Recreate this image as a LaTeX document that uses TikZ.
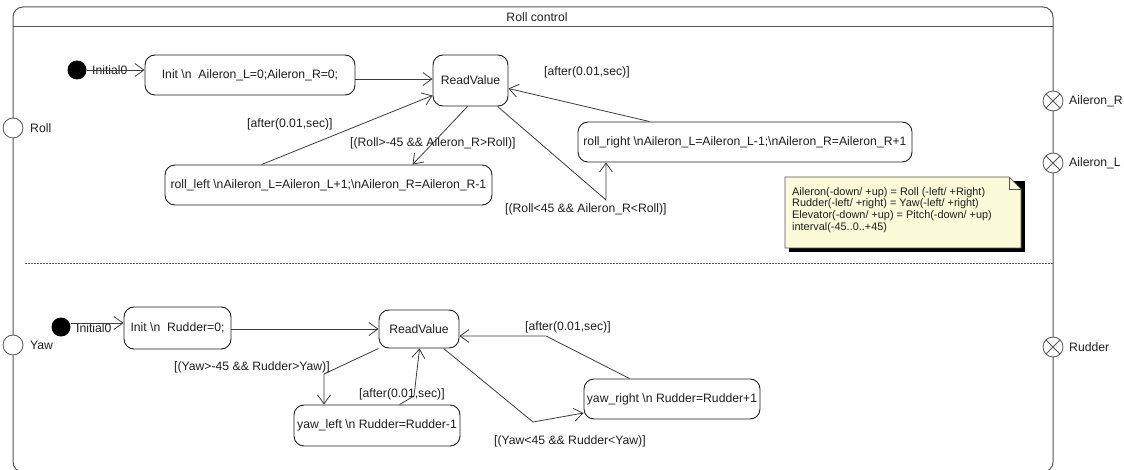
\documentclass[tikz,border=0pt]{standalone}
\usepackage{fontspec}
\setmainfont{Liberation Sans}
\usetikzlibrary{arrows.meta,calc}
\definecolor{ink}{HTML}{1E1E1E}
\definecolor{edgegray}{HTML}{3C3C3C}
\definecolor{framegray}{HTML}{555555}
\definecolor{notefill}{HTML}{FBFBDA}
\begin{document}
\begin{tikzpicture}[x=1pt,y=-1pt,
  font=\fontsize{12.2}{14}\selectfont,
  state/.style={draw=ink, rounded corners=10pt, line width=0.9pt, inner sep=0pt,
    text=ink, fill=white},
  tr/.style={draw=edgegray, line width=0.8pt, -{Straight Barb[length=9pt,width=13pt]}},
  guard/.style={text=ink, inner sep=0pt, anchor=west},
  inport/.style={circle, draw=framegray, fill=white, minimum size=20pt, inner sep=0pt, line width=0.8pt},
  outport/.style={inport},
  startdot/.style={circle, fill=black, minimum size=19pt, inner sep=0pt}]
\useasboundingbox (0,0) rectangle (1124,470);

% enclosing state with its title bar
\draw[framegray, line width=1pt, rounded corners=10pt] (13,7) rectangle (1053,472);
\draw[framegray, line width=1pt] (13,27) -- (1053,27);
\node[text=ink, inner sep=0pt] (title) at (537,17) {Roll control};
% region separator
\draw[framegray, line width=0.8pt, dash pattern=on 2pt off 1pt] (25,263) -- (1053,263);

% ports on the border
\node[inport] (roll) at (13,128) {};
\node[guard] (rolllbl) at (30,128) {Roll};
\node[inport] (yaw) at (13,345) {};
\node[guard] (yawlbl) at (30,345) {Yaw};
\foreach \p/\yy/\t in {ailr/101/Aileron\_R, aill/163/Aileron\_L, rud/347/Rudder}{
  \node[outport] (\p) at (1053,\yy) {};
  \draw[framegray, line width=0.8pt] (\p.45) -- (\p.225) (\p.135) -- (\p.-45);
  \node[guard] (\p lbl) at (1069,\yy) {\t};
}

% upper region: roll
\node[startdot] (ini1) at (77,70) {};
\node[state, minimum width=210pt, minimum height=40pt] (init1) at (250,75)
  {Init \textbackslash n\ \ Aileron\_L=0;Aileron\_R=0;};
\node[state, minimum width=75pt, minimum height=51pt] (rv1) at (470.5,80.5) {ReadValue};
\node[state, minimum width=327pt, minimum height=40pt] (rleft) at (328.5,185)
  {roll\_left \textbackslash nAileron\_L=Aileron\_L+1;\textbackslash nAileron\_R=Aileron\_R-1};
\node[state, minimum width=334pt, minimum height=40pt] (rright) at (745,142)
  {roll\_right \textbackslash nAileron\_L=Aileron\_L-1;\textbackslash nAileron\_R=Aileron\_R+1};

\node[guard] (ini1lbl) at (92,70) {Initial0};
\draw[tr] (ini1.east) -- (ini1.east -| init1.west);
\draw[tr] ([yshift=-4pt]init1.east) -- ([yshift=-4pt]init1.east -| rv1.west);

\draw[tr] ([xshift=35pt]rv1.south west) -- ([xshift=248pt]rleft.north west);
\node[guard] (g1) at (350,143) {[(Roll>-45 \&\& Aileron\_R>Roll)]};

\draw[tr] ([xshift=97pt]rleft.north west) -- ([yshift=11pt]rv1.south west);
\node[guard] (g2) at (247,124) {[after(0.01,sec)]};

\coordinate (k1) at (606,200);
\draw[tr] ([xshift=65pt]rv1.south west) -- (k1) -- (k1 |- rright.south);
\node[guard] (g3) at (505,209) {[(Roll<45 \&\& Aileron\_R<Roll)]};

\draw[tr] ([xshift=72pt]rright.north west) -- ([yshift=-8pt]rv1.east);
\node[guard] (g4) at (544,72) {[after(0.01,sec)]};

% comment note
\fill[black] (789,181) rectangle (1025,252);
\filldraw[fill=notefill, draw=framegray, line width=0.7pt]
  (785,177) -- (1009,177) -- (1021,189) -- (1021,248) -- (785,248) -- cycle;
\draw[framegray, line width=0.7pt] (1009,177) -- (1009,189) -- (1021,189);
\node[anchor=north west, inner sep=0pt, align=left, text=ink,
  font=\fontsize{10.9}{11.9}\selectfont] (note) at (792,187)
  {Aileron(-down/ +up) = Roll (-left/ +Right)\\
   Rudder(-left/ +right) = Yaw(-left/ +right)\\
   Elevator(-down/ +up) = Pitch(-down/ +up)\\
   interval(-45..0..+45)};

% lower region: yaw
\node[startdot] (ini2) at (61,327) {};
\node[state, minimum width=107pt, minimum height=42pt] (init2) at (177.5,328)
  {Init \textbackslash n\ \ Rudder=0;};
\node[state, minimum width=80pt, minimum height=38pt] (rv2) at (419,329) {ReadValue};
\node[state, minimum width=166pt, minimum height=41pt] (yleft) at (377,425.5)
  {yaw\_left \textbackslash n Rudder=Rudder-1};
\node[state, minimum width=176pt, minimum height=40pt] (yright) at (672,399)
  {yaw\_right \textbackslash n Rudder=Rudder+1};

\node[guard] (ini2lbl) at (76,328) {Initial0};
\draw[tr] ([yshift=4pt]ini2.east) -- ([yshift=4pt]ini2.east -| init2.west);
\draw[tr] ([yshift=-1pt]init2.east) -- ([yshift=-1pt]init2.east -| rv2.west);

\coordinate (k2) at (324,374);
\draw[tr] (rv2.south west) -- (k2) -- (k2 |- yleft.north);
\node[guard] (g5) at (174,367) {[(Yaw>-45 \&\& Rudder>Yaw)]};

\coordinate (k3) at (414,396);
\draw[tr] ([xshift=106pt]yleft.north west) -- (k3) -- ([xshift=41pt]rv2.south west);
\node[guard] (g6) at (359,394) {[after(0.01,sec)]};

\coordinate (k4) at (533,422);
\draw[tr] ([xshift=65pt]rv2.south west) -- (k4) -- ([yshift=-14pt]yright.west);
\node[guard] (g7) at (494,441) {[(Yaw<45 \&\& Rudder<Yaw)]};

\coordinate (k5) at (546,336);
\draw[tr] ([xshift=46pt]yright.north west) -- (k5) -- (k5 -| rv2.east);
\node[guard] (g8) at (525,327) {[after(0.01,sec)]};
\end{tikzpicture}
\end{document}
